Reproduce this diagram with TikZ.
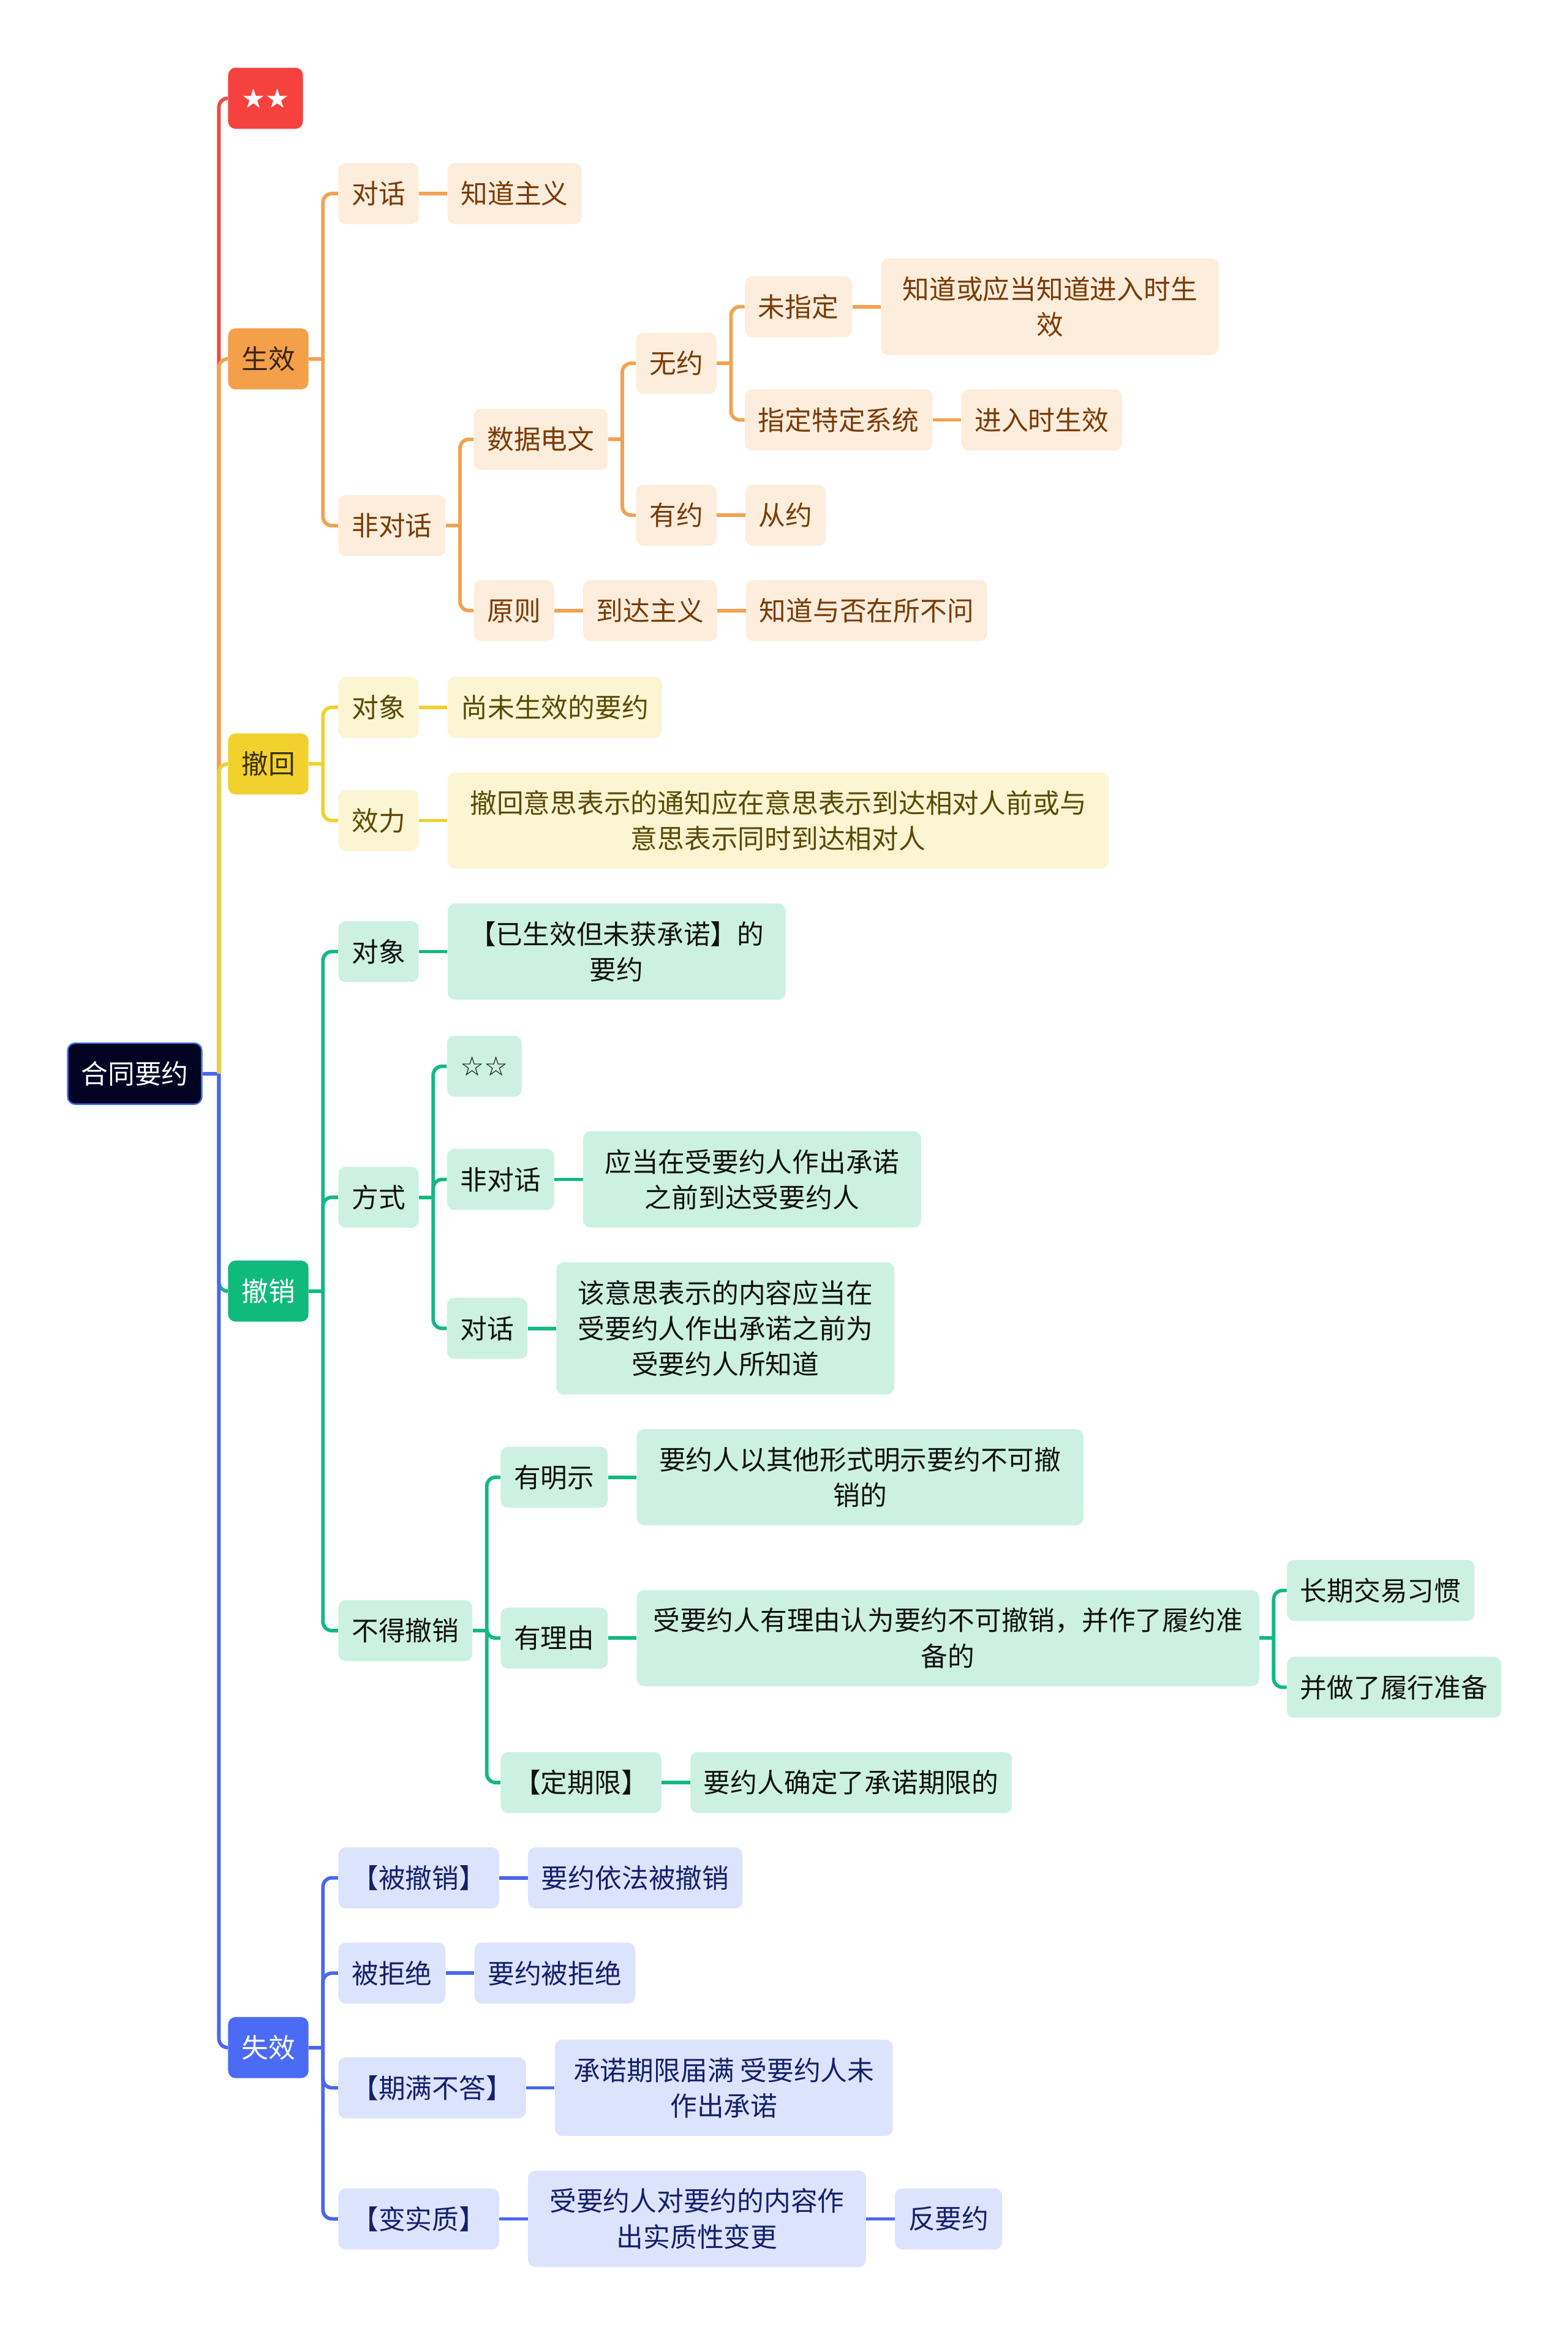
\documentclass[tikz,border=0pt]{standalone}
\usepackage{fontspec}
\newfontfamily\cjkfont{Noto Sans CJK SC}
\newfontfamily\symfont{DejaVu Sans}
\usetikzlibrary{positioning}
\definecolor{rootfill}{HTML}{020223}
\definecolor{rootline}{HTML}{3D6FE3}
\definecolor{redtop}{HTML}{F5423E}
\definecolor{redline}{HTML}{EE4A45}
\definecolor{orgtop}{HTML}{F4A04B}
\definecolor{orgline}{HTML}{F2A24E}
\definecolor{orglight}{HTML}{FDEDDC}
\definecolor{orgtext}{HTML}{7A3B05}
\definecolor{orgdark}{HTML}{3A2510}
\definecolor{yeltop}{HTML}{F2D12E}
\definecolor{yelline}{HTML}{F0D130}
\definecolor{yellight}{HTML}{FCF5D3}
\definecolor{yeltext}{HTML}{5A4A05}
\definecolor{yeldark}{HTML}{3A3008}
\definecolor{grntop}{HTML}{10B97C}
\definecolor{grnline}{HTML}{12B886}
\definecolor{grnlight}{HTML}{CCF1E2}
\definecolor{grntext}{HTML}{111111}
\definecolor{blutop}{HTML}{4B6BF5}
\definecolor{bluline}{HTML}{4A67EC}
\definecolor{blulight}{HTML}{DCE3FC}
\definecolor{blutext}{HTML}{14206B}
\newcommand\mapfont{\cjkfont\fontsize{18}{24}\selectfont}
\tikzset{
  % Mind map box
  mapnode/.style={rectangle, rounded corners=5pt, minimum height=41pt,
    inner xsep=9pt, inner ysep=12pt, align=center, font=\mapfont, anchor=west},
  rootnode/.style={mapnode, fill=rootfill, draw=rootline, line width=1pt, text=white},
  % First level topic (parameterized by colour)
  topic/.style={mapnode, fill=#1top, text=white},
  darktopic/.style={mapnode, fill=#1top, text=#1dark},
  % Deeper levels (parameterized by colour)
  leaf/.style={mapnode, fill=#1light, text=#1text},
  % Connector
  branch/.style={line width=2.4pt, draw=#1line, rounded corners=6pt}
}
\begin{document}
\begin{tikzpicture}[x=1pt, y=-1pt, node distance=19pt]
  \useasboundingbox (0,0) rectangle (1053,1568);

  % Root
  \node[rootnode] (root) at (45,721) {合同要约};

  % First level
  \node[topic=red] (star) at (153,66) {\symfont ★★};
  \node[darktopic=org] (shengxiao) at (153,241) {生效};
  \node[darktopic=yel] (chehui) at (153,513) {撤回};
  \node[topic=grn] (chexiao) at (153,867) {撤销};
  \node[topic=blu] (shixiao) at (153,1375) {失效};

  % 生效
  \node[leaf=org] (duihua) at (227,130) {对话};
  \node[leaf=org, right=of duihua] (zhidao) {知道主义};
  \node[leaf=org] (feiduihua) at (227,353) {非对话};
  \node[leaf=org] (shuju) at (318,295) {数据电文};
  \node[leaf=org] (yuanze) at (318,410) {原则};
  \node[leaf=org, right=of yuanze] (daoda) {到达主义};
  \node[leaf=org, right=of daoda] (zhiyu) {知道与否在所不问};
  \node[leaf=org] (wuyue) at (427,244) {无约};
  \node[leaf=org] (youyue) at (427,346) {有约};
  \node[leaf=org, right=of youyue] (congyue) {从约};
  \node[leaf=org] (weizhiding) at (500,206) {未指定};
  \node[leaf=org, right=of weizhiding, minimum width=227pt] (zhidaoying) {知道或应当知道进入时生\\效};
  \node[leaf=org] (zhidingxt) at (500,282) {指定特定系统};
  \node[leaf=org, right=of zhidingxt] (jinru) {进入时生效};

  % 撤回
  \node[leaf=yel] (chdx) at (227,475) {对象};
  \node[leaf=yel, right=of chdx] (shangwei) {尚未生效的要约};
  \node[leaf=yel] (xiaoli) at (227,551) {效力};
  \node[leaf=yel, right=of xiaoli, minimum width=444pt] (chehuitz) {撤回意思表示的通知应在意思表示到达相对人前或与\\意思表示同时到达相对人};

  % 撤销
  \node[leaf=grn] (cxdx) at (227,639) {对象};
  \node[leaf=grn, right=of cxdx, minimum width=227pt] (yishengxiao) {【已生效但未获承诺】的\\要约};
  \node[leaf=grn] (fangshi) at (227,804) {方式};
  \node[leaf=grn] (stars) at (300,716) {\symfont ☆☆};
  \node[leaf=grn] (fsfdh) at (300,792) {非对话};
  \node[leaf=grn, right=of fsfdh, minimum width=227pt] (yingdang) {应当在受要约人作出承诺\\之前到达受要约人};
  \node[leaf=grn] (fsdh) at (300,892) {对话};
  \node[leaf=grn, right=of fsdh, minimum width=227pt] (gaiyisi) {该意思表示的内容应当在\\受要约人作出承诺之前为\\受要约人所知道};
  \node[leaf=grn] (bude) at (227,1095) {不得撤销};
  \node[leaf=grn] (mingshi) at (336,992) {有明示};
  \node[leaf=grn, right=of mingshi, minimum width=300pt] (qitaxs) {要约人以其他形式明示要约不可撤\\销的};
  \node[leaf=grn] (liyou) at (336,1100) {有理由};
  \node[leaf=grn, right=of liyou, minimum width=418pt] (youliyou) {受要约人有理由认为要约不可撤销，并作了履约准\\备的};
  \node[leaf=grn] (changqi) at (864,1068) {长期交易习惯};
  \node[leaf=grn] (bingzuo) at (864,1133) {并做了履行准备};
  \node[leaf=grn] (dingqi) at (336,1197) {【定期限】};
  \node[leaf=grn, right=of dingqi] (queding) {要约人确定了承诺期限的};

  % 失效
  \node[leaf=blu] (beicx) at (227,1261) {【被撤销】};
  \node[leaf=blu, right=of beicx] (yifacx) {要约依法被撤销};
  \node[leaf=blu] (beijj) at (227,1325) {被拒绝};
  \node[leaf=blu, right=of beijj] (yaoyuejj) {要约被拒绝};
  \node[leaf=blu] (qiman) at (227,1402) {【期满不答】};
  \node[leaf=blu, right=of qiman, minimum width=227pt] (chengnuo) {承诺期限届满 受要约人未\\作出承诺};
  \node[leaf=blu] (bianshizhi) at (227,1490) {【变实质】};
  \node[leaf=blu, right=of bianshizhi, minimum width=227pt] (shouyaoyue) {受要约人对要约的内容作\\出实质性变更};
  \node[leaf=blu, right=of shouyaoyue] (fanyaoyue) {反要约};

  % Root connectors
  \draw[branch=blu] (root.east) -- ++(11,0) coordinate (root-j);
  \draw[branch=red] (root-j) |- (star.west);
  \draw[branch=org] (root-j) |- (shengxiao.west);
  \draw[branch=yel] (root-j) |- (chehui.west);
  \draw[branch=grn] (root-j) |- (chexiao.west);
  \draw[branch=blu] (root-j) |- (shixiao.west);

  % Forks
  \foreach \p/\c/\kids in {shengxiao/org/{duihua,feiduihua}, feiduihua/org/{shuju,yuanze},
      shuju/org/{wuyue,youyue}, wuyue/org/{weizhiding,zhidingxt},
      chehui/yel/{chdx,xiaoli},
      chexiao/grn/{cxdx,fangshi,bude}, fangshi/grn/{stars,fsfdh,fsdh},
      bude/grn/{mingshi,liyou,dingqi}, youliyou/grn/{changqi,bingzuo},
      shixiao/blu/{beicx,beijj,qiman,bianshizhi}} {
    \draw[branch=\c] (\p.east) -- ++(9.5,0) coordinate (\p-j);
    \foreach \k in \kids
      \draw[branch=\c] (\p-j) |- (\k.west);
  }

  % Chains
  \foreach \a/\b/\c in {duihua/zhidao/org, yuanze/daoda/org, daoda/zhiyu/org,
      youyue/congyue/org, weizhiding/zhidaoying/org, zhidingxt/jinru/org,
      chdx/shangwei/yel, xiaoli/chehuitz/yel,
      cxdx/yishengxiao/grn, fsfdh/yingdang/grn, fsdh/gaiyisi/grn,
      mingshi/qitaxs/grn, liyou/youliyou/grn, dingqi/queding/grn,
      beicx/yifacx/blu, beijj/yaoyuejj/blu, qiman/chengnuo/blu,
      bianshizhi/shouyaoyue/blu, shouyaoyue/fanyaoyue/blu}
    \draw[branch=\c] (\a) -- (\b);
\end{tikzpicture}
\end{document}
